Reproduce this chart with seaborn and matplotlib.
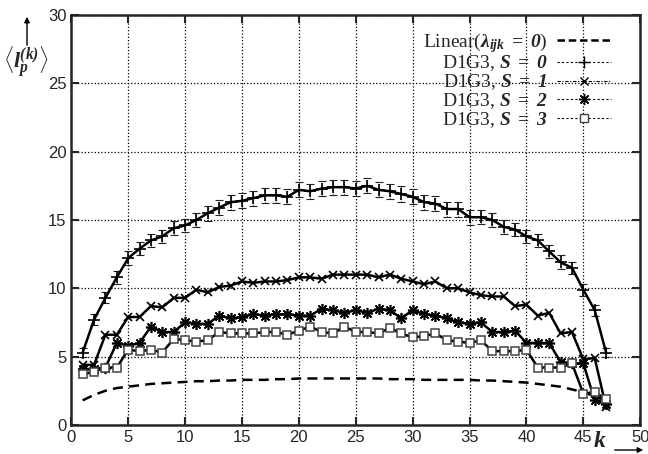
import pandas as pd
import numpy as np
import matplotlib
matplotlib.use('Agg')
import matplotlib.pyplot as plt
import seaborn as sns
from matplotlib.lines import Line2D

# k index along the chain
k = list(range(1, 48))

linear = [1.8, 2.2, 2.5, 2.7, 2.8, 2.9, 3.0, 3.05, 3.1, 3.15, 3.2, 3.2, 3.25, 3.25, 3.3,
          3.3, 3.3, 3.35, 3.35, 3.4, 3.4, 3.4, 3.4, 3.4, 3.4, 3.4, 3.4, 3.35, 3.35, 3.35,
          3.3, 3.3, 3.3, 3.3, 3.3, 3.25, 3.25, 3.2, 3.15, 3.1, 3.0, 2.9, 2.8, 2.6, 2.4, 2.1, 1.8]

s0 = [5.3, 7.7, 9.3, 10.8, 12.2, 12.9, 13.5, 13.8, 14.4, 14.6, 15.0, 15.5, 15.9, 16.3, 16.4,
      16.6, 16.8, 16.8, 16.7, 17.2, 17.1, 17.3, 17.4, 17.4, 17.3, 17.5, 17.2, 17.1, 16.9, 16.7,
      16.3, 16.2, 15.8, 15.8, 15.2, 15.2, 15.0, 14.5, 14.3, 13.8, 13.5, 12.7, 11.9, 11.5, 9.9,
      8.4, 5.3]
s0_err = [0.3, 0.4, 0.4, 0.45, 0.5, 0.5, 0.5, 0.5, 0.5, 0.5, 0.5, 0.55, 0.55, 0.55, 0.55,
          0.55, 0.55, 0.55, 0.55, 0.55, 0.55, 0.55, 0.55, 0.55, 0.55, 0.55, 0.55, 0.55, 0.55, 0.55,
          0.55, 0.55, 0.55, 0.55, 0.55, 0.5, 0.5, 0.5, 0.5, 0.5, 0.5, 0.5, 0.5, 0.45, 0.45,
          0.4, 0.3]

s1 = [4.4, 4.4, 6.6, 6.6, 7.9, 7.9, 8.7, 8.6, 9.3, 9.3, 9.9, 9.7, 10.1, 10.2, 10.5,
      10.4, 10.5, 10.5, 10.6, 10.8, 10.8, 10.7, 11.0, 11.0, 11.0, 11.0, 10.8, 11.0, 10.7, 10.5,
      10.3, 10.5, 10.0, 10.0, 9.7, 9.5, 9.4, 9.4, 8.7, 8.8, 8.0, 8.2, 6.7, 6.8, 4.8,
      4.9, 1.3]

s2 = [4.1, 4.1, 4.2, 6.0, 5.8, 6.0, 7.2, 6.8, 6.8, 7.5, 7.4, 7.4, 8.0, 7.8, 7.9,
      8.1, 8.0, 8.1, 8.1, 8.0, 8.0, 8.5, 8.4, 8.2, 8.4, 8.2, 8.5, 8.4, 7.8, 8.4,
      8.1, 8.0, 7.8, 7.5, 7.4, 7.5, 6.8, 6.8, 6.9, 6.0, 6.0, 6.0, 4.6, 4.5, 4.5,
      1.8, 1.5]

s3 = [3.7, 3.9, 4.2, 4.2, 5.5, 5.4, 5.5, 5.3, 6.3, 6.2, 6.1, 6.2, 6.8, 6.7, 6.7,
      6.7, 6.8, 6.8, 6.6, 6.9, 7.2, 6.8, 6.7, 7.2, 6.8, 6.8, 6.7, 7.1, 6.7, 6.4,
      6.5, 6.7, 6.2, 6.1, 6.0, 6.2, 5.4, 5.4, 5.4, 5.5, 4.2, 4.2, 4.2, 4.5, 2.3,
      2.4, 1.9]

labels = [r'Linear($\mathbf{\lambda_{ijk}\ =\ 0}$)',
          r'D1G3, $\mathbf{S\ =\ 0}$',
          r'D1G3, $\mathbf{S\ =\ 1}$',
          r'D1G3, $\mathbf{S\ =\ 2}$',
          r'D1G3, $\mathbf{S\ =\ 3}$']

sns.set_style('ticks')
plt.rcParams['font.family'] = ['Liberation Sans', 'DejaVu Sans']
plt.rcParams['mathtext.fontset'] = 'custom'
plt.rcParams['mathtext.rm'] = 'Liberation Serif'
plt.rcParams['mathtext.it'] = 'Liberation Serif:italic'
plt.rcParams['mathtext.bf'] = 'Liberation Serif:bold:italic'

fig = plt.figure(figsize=(6.48, 4.54), dpi=100)
ax = fig.add_axes([0.11, 0.064, 0.878, 0.903])

df = pd.DataFrame({'k': k, 'linear': linear, 's0': s0, 's1': s1, 's2': s2, 's3': s3})

sns.lineplot(data=df, x='k', y='linear', ax=ax, color='black', lw=1.8,
             linestyle=(0, (4, 2.5)), legend=False)
eb = ax.errorbar(k, s0, yerr=s0_err, fmt='none', ecolor='#222222', elinewidth=0.8,
                 capsize=3, capthick=0.8)
for c in eb[2]:
    c.set_linestyle((0, (1, 1.2)))
sns.lineplot(data=df, x='k', y='s0', ax=ax, color='black', lw=1.8,
             marker='+', markersize=9, markeredgewidth=1.2, markeredgecolor='black', legend=False)
sns.lineplot(data=df, x='k', y='s1', ax=ax, color='black', lw=1.8,
             marker='x', markersize=6, markeredgewidth=1.2, markeredgecolor='black', legend=False)
sns.lineplot(data=df, x='k', y='s2', ax=ax, color='black', lw=1.8,
             marker=(8, 2, 0), markersize=8, markeredgewidth=1.2, markeredgecolor='black',
             legend=False)
sns.lineplot(data=df, x='k', y='s3', ax=ax, color='black', lw=1.8,
             marker='s', markersize=5.5, markerfacecolor='white', markeredgecolor='#444444',
             markeredgewidth=1.1, legend=False)

ax.set_xlim(0, 50)
ax.set_ylim(0, 30)
ax.set_xticks(range(0, 51, 5))
ax.set_yticks(range(0, 31, 5))
ax.set_xlabel('')
ax.set_ylabel('')
ax.grid(True, linestyle=':', color='black', lw=0.9)
ax.tick_params(direction='in', top=True, right=True, length=6, width=1.5, labelsize=12)
for sp in ax.spines.values():
    sp.set_linewidth(1.8)

handles = [
    Line2D([], [], color='black', lw=1.8, linestyle=(0, (3, 1.5))),
    Line2D([], [], color='black', lw=0.8, linestyle=(0, (2, 2)), marker='+', markersize=8),
    Line2D([], [], color='black', lw=0.8, linestyle=(0, (3, 1.5, 1, 1.5)), marker='x', markersize=6),
    Line2D([], [], color='black', lw=0.8, linestyle=(0, (2, 2)), marker=(8, 2, 0), markersize=8),
    Line2D([], [], color='black', lw=0.8, linestyle=(0, (2, 2)), marker='s', markersize=6,
           markerfacecolor='white', markeredgecolor='#444444'),
]
leg = ax.legend(handles, labels, loc='upper right', bbox_to_anchor=(0.97, 0.99),
                frameon=False, markerfirst=False, handlelength=2.8, handletextpad=0.5,
                labelspacing=-0.05, borderaxespad=0.2,
                prop={'family': 'Liberation Serif', 'size': 14})

# axis labels with arrows, gnuplot style
fig.text(0.04, 0.862, r'$\langle \mathbf{l}_\mathbf{p}^{\mathbf{(k)}}\rangle$', fontsize=16,
         ha='center', va='center')
ax.annotate('', xy=(27, 440), xytext=(27, 406), xycoords='figure pixels',
            textcoords='figure pixels',
            arrowprops=dict(arrowstyle='-|>', lw=1, color='black', mutation_scale=8))
fig.text(0.925, 0.028, r'$\mathbf{k}$', fontsize=17, ha='center', va='center')
ax.annotate('', xy=(646, 4), xytext=(612, 4), xycoords='figure pixels',
            textcoords='figure pixels',
            arrowprops=dict(arrowstyle='-|>', lw=1, color='black', mutation_scale=8))

fig.savefig('out.png', dpi=100)
